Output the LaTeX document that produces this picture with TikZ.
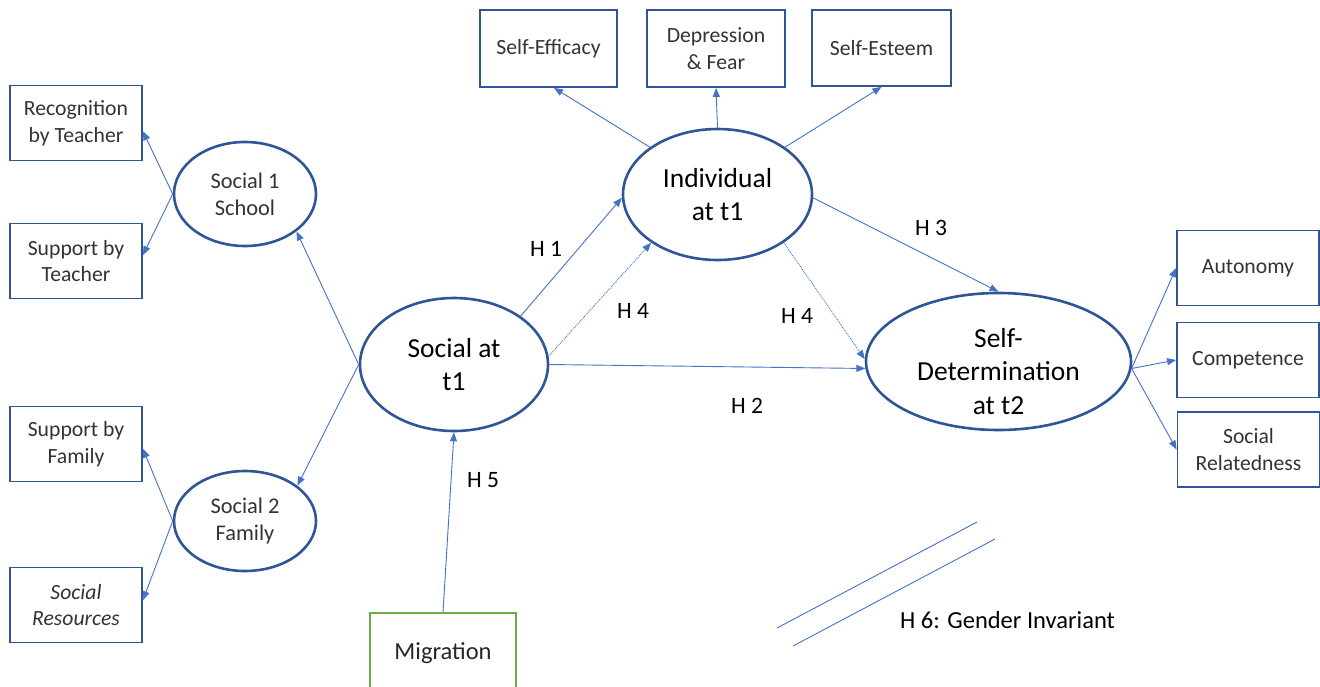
\documentclass[tikz,border=0pt]{standalone}
\usepackage{fontspec}
\setmainfont{Carlito}
\usetikzlibrary{arrows.meta,shapes.geometric}
\definecolor{ellblue}{HTML}{2F5597}
\definecolor{boxblue}{HTML}{2F5597}
\definecolor{linkblue}{HTML}{4472C4}
\definecolor{miggreen}{HTML}{70AD47}
\begin{document}
\begin{tikzpicture}[x=1pt,y=-1pt,
  obsbox/.style={draw=boxblue, line width=1.8pt, inner sep=0pt, align=center,
    font=\fontsize{21.7}{26.5}\selectfont, text=black!80},
  lat/.style={ellipse, draw=ellblue, line width=2.6pt, inner sep=0pt},
  smlab/.style={font=\fontsize{22.4}{27.3}\selectfont, align=center, text=black!80},
  biglab/.style={font=\fontsize{27.5}{33.5}\selectfont, align=center, text=black},
  link/.style={draw=linkblue, line width=0.9pt, -{Triangle[length=9pt,width=7pt]}},
  dlink/.style={link, densely dotted},
  hlab/.style={font=\fontsize{23.5}{28}\selectfont, inner sep=0pt, text=black},
  plain/.style={draw=linkblue, line width=0.9pt}]
\useasboundingbox (0,0) rectangle (1320,686);

% left observed boxes
\node[obsbox, minimum width=132pt, minimum height=75pt] (rec) at (76,123) {Recognition\\by Teacher};
\node[obsbox, minimum width=132pt, minimum height=75pt] (sbt) at (76,261) {Support by\\Teacher};
\node[obsbox, minimum width=132pt, minimum height=75pt] (sbf) at (76,444) {Support by\\Family};
\node[obsbox, minimum width=132pt, minimum height=75pt] (sres) at (76,605) {\itshape Social\\\itshape Resources};

% top observed boxes
\node[obsbox, minimum width=137pt, minimum height=77pt] (seff) at (548.5,48.5) {Self-Efficacy};
\node[obsbox, minimum width=138pt, minimum height=77pt] (dep) at (716,48.5) {Depression\\\& Fear};
\node[obsbox, minimum width=139pt, minimum height=76pt] (sest) at (881.5,48) {Self-Esteem};

% right observed boxes
\node[obsbox, minimum width=142pt, minimum height=75pt] (aut) at (1248,268) {Autonomy};
\node[obsbox, minimum width=142pt, minimum height=75pt] (comp) at (1248,360) {Competence};
\node[obsbox, minimum width=142pt, minimum height=75pt] (srel) at (1248.5,449.5) {Social\\Relatedness};

% migration
\node[draw=miggreen, line width=1.8pt, inner sep=0pt, minimum width=146pt, minimum height=80pt,
  font=\fontsize{24.5}{29}\selectfont, text=black!85] (mig) at (443,653) {Migration};

% latent ellipses
\node[lat, minimum width=142pt, minimum height=104pt, label={[smlab]center:{Social 1\\School}}] (s1) at (245,194) {};
\node[lat, minimum width=142pt, minimum height=100pt, label={[smlab]center:{Social 2\\Family}}] (s2) at (245,521) {};
\node[lat, minimum width=188pt, minimum height=133pt, label={[biglab]center:{Social at\\t1}}] (sat) at (454,364.5) {};
\node[lat, minimum width=189pt, minimum height=131pt, label={[biglab]center:{Individual\\at t1}}] (ind) at (717.5,194.5) {};
\node[lat, minimum width=265pt, minimum height=137pt, label={[biglab, yshift=-10pt]center:{Self-\\Determination\\at t2}}] (sd) at (998.5,361.5) {};

% measurement connectors
\draw[link] (s1.west) -- (rec.-7);
\draw[link] (s1.west) -- (sbt.5);
\draw[link] (s2.west) -- (sbf.-4);
\draw[link] (s2.west) -- (sres.4);
\draw[link] (sat.west) -- (s1.-36);
\draw[link] (sat.west) -- (s2.34);
\draw[link] (ind.145) -- (seff.-82);
\draw[link] (ind.north) -- (dep.south);
\draw[link] (ind.35) -- (sest.south);
\draw[link] (sd.-3) -- (aut.west);
\draw[link] (sd.-3) -- (comp.west);
\draw[link] (sd.-3) -- (srel.west);

% structural connectors
\draw[link] (sat.36) -- (ind.182);
\draw[dlink] (sat.5) -- (ind.216);
\draw[link] (sat.east) -- (sd.183);
\draw[dlink] (ind.324) -- (sd.179);
\draw[link] (ind.-2) -- (sd.north);
\draw[link] (mig.north) -- (sat.south);

% labels
\node[hlab] (h1) at (546,249) {H 1};
\node[hlab] (h4a) at (633,311) {H 4};
\node[hlab] (h4b) at (797,316) {H 4};
\node[hlab] (h3) at (931,228) {H 3};
\node[hlab] (h2) at (747,406) {H 2};
\node[hlab] (h5) at (483,480) {H 5};
\node[hlab, font=\fontsize{24.5}{29}\selectfont] (h6) at (1007.5,620.5) {H 6: Gender Invariant};

% gender parallel lines
\coordinate (g1a) at (777,628);
\coordinate (g1b) at (977,522);
\coordinate (g2a) at (793,646);
\coordinate (g2b) at (995,539);
\draw[plain] (g1a) -- (g1b);
\draw[plain] (g2a) -- (g2b);
\end{tikzpicture}
\end{document}
